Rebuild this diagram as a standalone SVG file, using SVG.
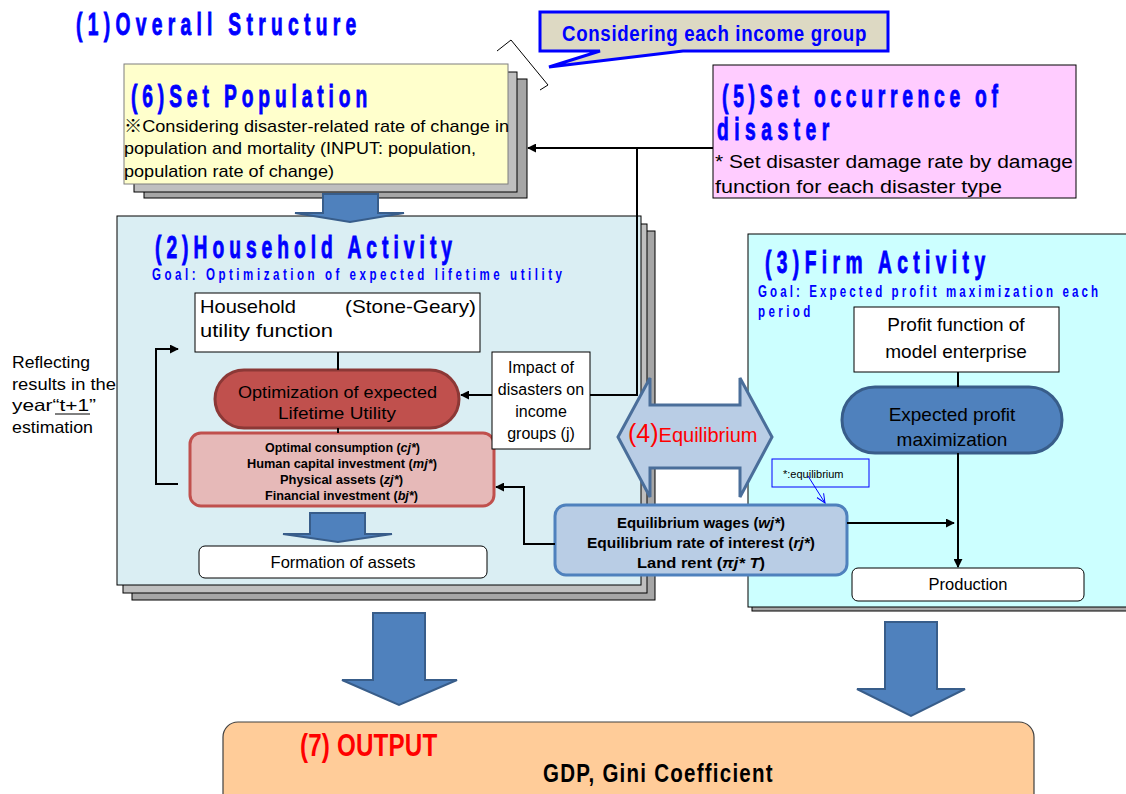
<svg xmlns="http://www.w3.org/2000/svg" width="1126" height="794" viewBox="0 0 1126 794">
  <style>
    .body { font-family: "Liberation Sans", "Noto Sans CJK JP", sans-serif; fill: #000; }
    .bold { font-family: "Liberation Sans", "Noto Sans CJK JP", sans-serif; font-weight: bold; fill: #000; }
    .head { font-family: "Liberation Sans", "Noto Sans CJK JP", sans-serif; font-weight: bold; fill: #0000ff; }
    .heavy { stroke: #0000ff; stroke-width: 0.9; }
    .conn { fill: none; stroke: #000; stroke-width: 2; }
    .bigarrow { fill: #4f81bd; stroke: #385d8a; stroke-width: 2; }
    .layer1 { fill: #bfbfbf; stroke: #000; stroke-width: 1; }
    .layer2 { fill: #a6a6a6; stroke: #000; stroke-width: 1; }
    .plain { fill: #fff; stroke: #000; stroke-width: 1; }
    .it { font-style: italic; }
  </style>
  <defs>
    <marker id="arrow" viewBox="0 0 10 10" refX="9" refY="5" markerWidth="9" markerHeight="9" markerUnits="userSpaceOnUse" orient="auto">
      <path d="M0,0 L10,5 L0,10 z" fill="#000"/>
    </marker>
    <marker id="openArrow" viewBox="0 0 10 10" refX="9" refY="5" markerWidth="10" markerHeight="10" markerUnits="userSpaceOnUse" orient="auto">
      <path d="M0,1 L9,5 L0,9" fill="none" stroke="#0000ff" stroke-width="1"/>
    </marker>
  </defs>

  <rect width="1126" height="794" fill="#fff"/>

  <!-- heading -->
  <g id="title">
    <text class="head heavy" font-size="31" transform="translate(76,35) scale(0.62,1)" textLength="452" lengthAdjust="spacing">(1)Overall Structure</text>
  </g>

  <!-- callout -->
  <g id="income-group-callout">
    <polyline points="497,51 511,40 548,85 540,90" fill="none" stroke="#000" stroke-width="1"/>
    <path d="M540,12 H888 V51 H683 L549,67 L600,51 H540 Z" fill="#ddd9c3" stroke="#0000ff" stroke-width="3" stroke-linejoin="miter"/>
    <text class="head" font-size="22" transform="translate(562,41) scale(0.85,1)" textLength="358" lengthAdjust="spacing">Considering each income group</text>
  </g>

  <!-- (6) population -->
  <g id="population">
    <rect class="layer2" x="144" y="79" width="383" height="119"/>
    <rect class="layer1" x="134" y="72" width="383" height="120"/>
    <rect x="124" y="64" width="384" height="120" fill="#ffffcc" stroke="#7f7f7f" stroke-width="1"/>
    <text class="head heavy" font-size="31" transform="translate(131,107) scale(0.62,1)" textLength="381" lengthAdjust="spacing">(6)Set Population</text>
    <text class="body" font-size="17" x="124" y="132" textLength="385" lengthAdjust="spacingAndGlyphs">※Considering disaster-related rate of change in</text>
    <text class="body" font-size="17" x="124" y="154" textLength="352" lengthAdjust="spacingAndGlyphs">population and mortality (INPUT: population,</text>
    <text class="body" font-size="17" x="124" y="177" textLength="210" lengthAdjust="spacingAndGlyphs">population rate of change)</text>
  </g>

  <!-- (5) disaster -->
  <g id="disaster">
    <rect x="713" y="65" width="363" height="133" fill="#ffccff" stroke="#000" stroke-width="1"/>
    <text class="head heavy" font-size="31" transform="translate(722,107) scale(0.62,1)" textLength="445" lengthAdjust="spacing">(5)Set occurrence of</text>
    <text class="head heavy" font-size="31" transform="translate(717,140) scale(0.62,1)" textLength="181" lengthAdjust="spacing">disaster</text>
    <text class="body" font-size="18" x="715" y="168" textLength="358" lengthAdjust="spacingAndGlyphs">* Set disaster damage rate by damage</text>
    <text class="body" font-size="18" x="715" y="193" textLength="287" lengthAdjust="spacingAndGlyphs">function for each disaster type</text>
  </g>

  <!-- (2) household -->
  <g id="household">
    <rect class="layer2" x="132" y="231" width="523" height="369"/>
    <rect class="layer1" x="123" y="224" width="524" height="369"/>
    <rect x="117" y="216" width="524" height="369" fill="#daeef3" stroke="#000" stroke-width="1"/>
    <text class="head heavy" font-size="31" transform="translate(155,258) scale(0.62,1)" textLength="479" lengthAdjust="spacing">(2)Household Activity</text>
    <text class="head" font-size="17" transform="translate(152,280) scale(0.68,1)" textLength="603" lengthAdjust="spacing">Goal: Optimization of expected lifetime utility</text>
  </g>

  <g id="utility-function">
    <rect class="plain" x="195" y="293" width="285" height="59"/>
    <text class="body" font-size="19" x="200" y="313" textLength="96" lengthAdjust="spacingAndGlyphs">Household</text>
    <text class="body" font-size="19" x="345" y="313" textLength="131" lengthAdjust="spacingAndGlyphs">(Stone-Geary)</text>
    <text class="body" font-size="19" x="200" y="337" textLength="133" lengthAdjust="spacingAndGlyphs">utility function</text>
  </g>

  <g id="lifetime-utility">
    <rect x="215" y="370" width="244" height="58" rx="29" ry="29" fill="#c0504d" stroke="#8c3836" stroke-width="3"/>
    <text class="body" font-size="17" x="238" y="398" textLength="199" lengthAdjust="spacingAndGlyphs">Optimization of expected</text>
    <text class="body" font-size="17" x="278" y="419" textLength="118" lengthAdjust="spacingAndGlyphs">Lifetime Utility</text>
  </g>

  <g id="optimal-choices">
    <rect x="190" y="433" width="304" height="73" rx="11" ry="11" fill="#e6b9b8" stroke="#c0504d" stroke-width="3"/>
    <text class="bold" font-size="12" x="265" y="452" textLength="155" lengthAdjust="spacingAndGlyphs">Optimal consumption (<tspan class="it">cj*</tspan>)</text>
    <text class="bold" font-size="12" x="247" y="468" textLength="190" lengthAdjust="spacingAndGlyphs">Human capital investment (<tspan class="it">mj*</tspan>)</text>
    <text class="bold" font-size="12" x="280" y="484" textLength="123" lengthAdjust="spacingAndGlyphs">Physical assets (<tspan class="it">zj*</tspan>)</text>
    <text class="bold" font-size="12" x="265" y="500" textLength="153" lengthAdjust="spacingAndGlyphs">Financial investment (<tspan class="it">bj*</tspan>)</text>
  </g>

  <g id="formation-of-assets">
    <path class="bigarrow" d="M310,513 H365 V534 H392 L338,542 L283,534 H310 Z"/>
    <rect class="plain" x="199" y="546" width="288" height="32" rx="6" ry="6"/>
    <text class="body" font-size="16.5" x="343" y="568" text-anchor="middle">Formation of assets</text>
  </g>

  <g id="disaster-impact">
    <rect class="plain" x="492" y="352" width="98" height="97"/>
    <text class="body" font-size="16" x="541" y="373" text-anchor="middle">Impact of</text>
    <text class="body" font-size="16" x="541" y="395" text-anchor="middle">disasters on</text>
    <text class="body" font-size="16" x="541" y="417" text-anchor="middle">income</text>
    <text class="body" font-size="16" x="541" y="439" text-anchor="middle">groups (j)</text>
  </g>

  <g id="feedback-note">
    <text class="body" font-size="16.5" x="12" y="368" textLength="78" lengthAdjust="spacingAndGlyphs">Reflecting</text>
    <text class="body" font-size="16.5" x="12" y="390" textLength="104" lengthAdjust="spacingAndGlyphs">results in the</text>
    <text class="body" font-size="16.5" x="12" y="411" textLength="84" lengthAdjust="spacingAndGlyphs">year“t+1”</text>
    <text class="body" font-size="16.5" x="12" y="433" textLength="81" lengthAdjust="spacingAndGlyphs">estimation</text>
    <line x1="55" y1="414" x2="90" y2="414" stroke="#000" stroke-width="1"/>
  </g>

  <!-- (3) firm -->
  <g id="firm">
    <rect x="752" y="238" width="390" height="373" fill="#a6a6a6" stroke="#000" stroke-width="1"/>
    <rect x="748" y="234" width="390" height="373" fill="#ccffff" stroke="#000" stroke-width="1"/>
    <text class="head heavy" font-size="31" transform="translate(765,273) scale(0.62,1)" textLength="355" lengthAdjust="spacing">(3)Firm Activity</text>
    <text class="head" font-size="17" transform="translate(758,297) scale(0.68,1)" textLength="500" lengthAdjust="spacing">Goal: Expected profit maximization each</text>
    <text class="head" font-size="17" transform="translate(758,317) scale(0.68,1)" textLength="77" lengthAdjust="spacing">period</text>
  </g>

  <g id="profit-function">
    <rect class="plain" x="854" y="307" width="205" height="65"/>
    <text class="body" font-size="19" x="956" y="331" text-anchor="middle">Profit function of</text>
    <text class="body" font-size="19" x="956" y="358" text-anchor="middle">model enterprise</text>
  </g>

  <g id="profit-maximization">
    <rect x="842" y="387" width="220" height="66" rx="33" ry="33" fill="#4f81bd" stroke="#385d8a" stroke-width="3"/>
    <text class="body" font-size="19" x="952" y="421" text-anchor="middle">Expected profit</text>
    <text class="body" font-size="19" x="952" y="446" text-anchor="middle">maximization</text>
  </g>

  <g id="production">
    <rect class="plain" x="852" y="568" width="232" height="33" rx="6" ry="6"/>
    <text class="body" font-size="16.5" x="968" y="590" text-anchor="middle">Production</text>
  </g>

  <!-- (4) equilibrium -->
  <g id="equilibrium">
    <path d="M618,437 L650,378 L650,405 L740,405 L740,378 L772,437 L740,497 L740,468 L650,468 L650,497 Z" fill="#b9cde5" stroke="#4a6e9a" stroke-width="3" stroke-linejoin="miter"/>
    <text x="628" y="442" fill="#ff0000" font-family="Liberation Sans, sans-serif"><tspan font-size="25">(4)</tspan><tspan font-size="20">Equilibrium</tspan></text>
  </g>

  <g id="equilibrium-prices">
    <rect x="555" y="505" width="292" height="70" rx="11" ry="11" fill="#b9cde5" stroke="#4f81bd" stroke-width="3"/>
    <text class="bold" font-size="14.5" x="617" y="528" textLength="168" lengthAdjust="spacingAndGlyphs">Equilibrium wages (<tspan class="it">wj*</tspan>)</text>
    <text class="bold" font-size="14.5" x="587" y="548" textLength="228" lengthAdjust="spacingAndGlyphs">Equilibrium rate of interest (<tspan class="it">rj*</tspan>)</text>
    <text class="bold" font-size="14.5" x="637" y="568" textLength="128" lengthAdjust="spacingAndGlyphs">Land rent (<tspan class="it">πj* T</tspan>)</text>
  </g>

  <g id="equilibrium-note">
    <rect x="772" y="459" width="97" height="28" fill="none" stroke="#0000ff" stroke-width="1"/>
    <text class="body" font-size="11" x="783" y="478">*:equilibrium</text>
  </g>

  <!-- (7) output -->
  <g id="output">
    <path class="bigarrow" d="M373,613 H425 V680 H457 L399,705 L342,680 H373 Z"/>
    <path class="bigarrow" d="M885,622 H937 V689 H965 L911,716 L857,689 H885 Z"/>
    <rect x="223" y="722" width="811" height="100" rx="15" ry="15" fill="#ffcc99" stroke="#404040" stroke-width="1.2"/>
    <text font-family="Liberation Sans, sans-serif" font-weight="bold" font-size="31" fill="#ff0000" transform="translate(300,756) scale(0.78,1)" textLength="176" lengthAdjust="spacing">(7) OUTPUT</text>
    <text class="bold" font-size="25" transform="translate(543,782) scale(0.82,1)" textLength="280" lengthAdjust="spacing">GDP, Gini Coefficient</text>
  </g>

  <!-- population feeds household -->
  <g id="population-arrow">
    <path class="bigarrow" d="M323,194 H378 V213 H404 L350,222 L295,213 H323 Z"/>
  </g>

  <!-- connectors -->
  <g id="connectors">
    <line class="conn" x1="713" y1="148" x2="528" y2="148" marker-end="url(#arrow)"/>
    <polyline class="conn" points="637,148 637,395 590,395"/>
    <line class="conn" x1="492" y1="395" x2="461" y2="395" marker-end="url(#arrow)"/>
    <line class="conn" x1="338" y1="352" x2="338" y2="370"/>
    <line class="conn" x1="338" y1="428" x2="338" y2="433"/>
    <polyline class="conn" points="178,484 156,484 156,349 178,349" marker-end="url(#arrow)"/>
    <polyline class="conn" points="555,544 524,544 524,487 496,487" marker-end="url(#arrow)"/>
    <line class="conn" x1="847" y1="523" x2="954" y2="523" marker-end="url(#arrow)"/>
    <line class="conn" x1="958" y1="372" x2="958" y2="387"/>
    <line class="conn" x1="958" y1="453" x2="958" y2="567" marker-end="url(#arrow)"/>
    <line x1="808" y1="476" x2="825" y2="503" stroke="#0000ff" stroke-width="1" marker-end="url(#openArrow)"/>
  </g>
</svg>
